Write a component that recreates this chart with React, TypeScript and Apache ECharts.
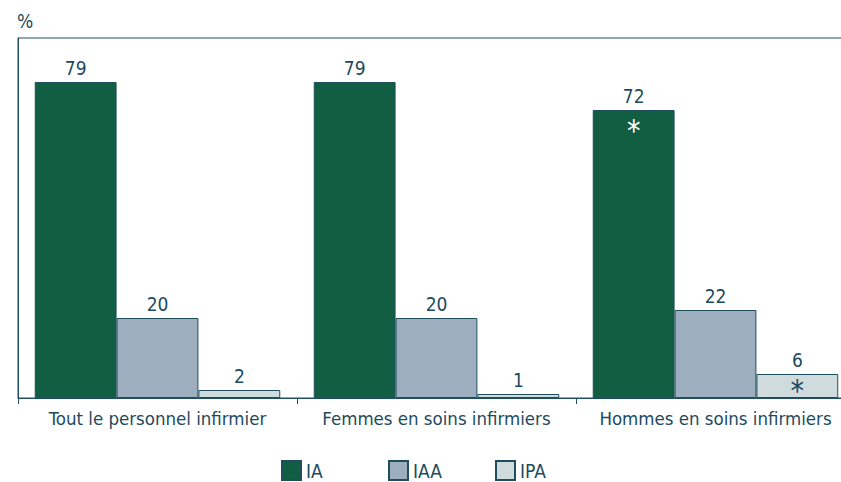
import React, { useEffect, useRef } from "react";
import * as echarts from "echarts";

const categories = ["Tout le personnel infirmier", "Femmes en soins infirmiers", "Hommes en soins infirmiers"];
const seriesNames = ["IA", "IAA", "IPA"];
const iaValues = [79, 79, 72];
const iaaValues = [20, 20, 22];
const ipaValues = [2, 1, 6];
const colors = ["#115E42", "#9DAFBF", "#D0DBDD"];
const TEXT = "#1D4A5E";
const LINE = "#1F4E5F";
const FONT = "'DejaVu Sans Condensed', 'Liberation Sans Narrow', sans-serif";

export default function App() {
  const ref = useRef<HTMLDivElement>(null);
  useEffect(() => {
    const chart = echarts.init(ref.current!, null, { renderer: "svg" });
    const star = (color: string, offsetY: number, value: number) => ({
      symbol: "circle",
      symbolSize: 1,
      itemStyle: { color: "transparent" },
      label: { show: true, formatter: "*", color, fontSize: 30, fontFamily: FONT, position: "inside", offset: [0, offsetY] },
      data: [{ coord: [categories[2], value] }],
    });
    const mkSeries = (name: string, data: number[], color: string, idx: number) => ({
      name,
      type: "bar",
      data,
      barGap: "0%",
      barCategoryGap: "12%",
      itemStyle: { color, borderColor: LINE, borderWidth: 1 },
      label: {
        show: true,
        position: "top",
        distance: 5,
        color: TEXT,
        fontSize: 19,
        fontFamily: FONT,
      },
      markPoint: idx === 0 ? star("#ffffff", 20, data[2]) : idx === 2 ? star(TEXT, 16, data[2]) : undefined,
    });
    const legendPos = [281, 388, 495];
    chart.setOption({
      animation: false,
      textStyle: { fontFamily: FONT },
      title: { text: "%", left: 12, top: 6, textStyle: { color: TEXT, fontSize: 19, fontWeight: "normal", fontFamily: FONT } },
      grid: {
        left: 18,
        width: 837,
        top: 38,
        bottom: 84,
        show: true,
        borderColor: LINE,
        borderWidth: 1,
        outerBoundsMode: "none",
        containLabel: false,
      },
      legend: seriesNames.map((n, i) => ({
        data: [n],
        left: legendPos[i],
        bottom: 1,
        padding: 0,
        itemWidth: 19,
        itemHeight: 19,
        itemGap: 7,
        icon: "rect",
        textStyle: { color: TEXT, fontSize: 19, fontFamily: FONT },
      })),
      xAxis: {
        type: "category",
        data: categories,
        axisLine: { lineStyle: { color: LINE, width: 1 } },
        axisTick: { show: true, length: 6, lineStyle: { color: LINE } },
        axisLabel: { color: TEXT, fontSize: 18.5, fontFamily: FONT, margin: 11, interval: 0 },
      },
      yAxis: {
        type: "value",
        min: 0,
        max: 90,
        interval: 90,
        axisLine: { show: true, lineStyle: { color: LINE, width: 1 } },
        axisTick: { show: false },
        axisLabel: { show: false },
        splitLine: { show: false },
      },
      series: [
        mkSeries(seriesNames[0], iaValues, colors[0], 0),
        mkSeries(seriesNames[1], iaaValues, colors[1], 1),
        mkSeries(seriesNames[2], ipaValues, colors[2], 2),
      ],
    });
    return () => chart.dispose();
  }, []);
  return <div ref={ref} style={{ width: 841, height: 482, position: "absolute", left: 0, top: 0 }} />;
}
